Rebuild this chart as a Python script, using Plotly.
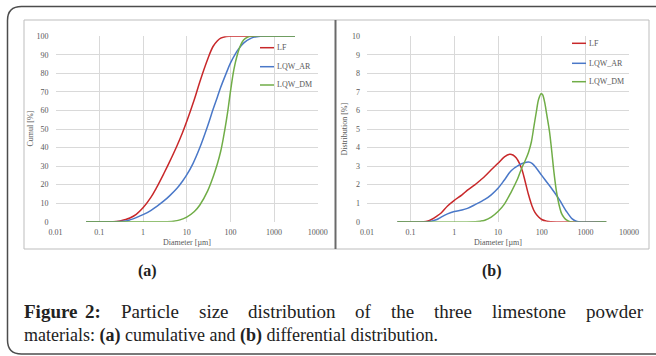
import plotly.graph_objects as go

W, H = 656, 356

# ---------------- data ----------------
# (a) cumulative distribution [%]
cum_lf_x = [0.05, 0.1, 0.2, 0.25, 0.3, 0.4, 0.5, 0.7, 1, 1.5, 2, 3, 4, 6, 8, 10, 15, 20, 30, 40, 50, 60, 80, 100, 200, 500, 1000, 3000]
cum_lf_y = [0, 0, 0, 0.1, 0.4, 1.2, 2, 4, 7.5, 13, 18, 26, 32, 41, 48, 54, 66, 75.5, 87.5, 94.5, 97.5, 99, 99.9, 100, 100, 100, 100, 100]

cum_ar_x = [0.05, 0.1, 0.2, 0.3, 0.4, 0.5, 0.7, 1, 1.5, 2, 3, 4, 6, 8, 10, 14, 20, 30, 40, 50, 60, 80, 100, 130, 150, 200, 300, 400, 500, 1000, 3000]
cum_ar_y = [0, 0, 0, 0.1, 0.4, 1, 2.2, 3.8, 6, 8, 11.2, 13.8, 18, 21.8, 25.2, 31.5, 40, 51.5, 60.5, 67, 72.5, 80, 85.5, 90.5, 92.8, 96.3, 99, 99.8, 100, 100, 100]

cum_dm_x = [0.05, 1, 3, 5, 7, 10, 15, 20, 30, 40, 50, 60, 70, 80, 90, 100, 120, 140, 170, 200, 250, 300, 1000, 3000]
cum_dm_y = [0, 0, 0, 0.3, 1, 2.5, 5.5, 9, 16.5, 24, 31, 38, 46, 54, 62, 70, 82, 89, 95, 98, 99.6, 100, 100, 100]

# (b) differential distribution [%]
dif_lf_x = [0.05, 0.2, 0.25, 0.3, 0.4, 0.5, 0.7, 1, 1.5, 2, 3, 4, 5, 7, 10, 14, 18.5, 22, 26, 31, 36, 41, 50, 60, 70, 85, 100, 130, 160, 3000]
dif_lf_y = [0, 0, 0.04, 0.12, 0.3, 0.47, 0.85, 1.15, 1.45, 1.7, 2.0, 2.25, 2.45, 2.8, 3.15, 3.5, 3.64, 3.6, 3.45, 3.15, 2.75, 2.25, 1.45, 0.85, 0.5, 0.25, 0.12, 0.03, 0, 0]

dif_ar_x = [0.05, 0.25, 0.3, 0.4, 0.5, 0.7, 1, 1.5, 2, 3, 5, 7, 10, 14, 20, 30, 40, 50, 60, 75, 100, 150, 200, 260, 370, 500, 600, 700, 3000]
dif_ar_y = [0, 0, 0.03, 0.12, 0.25, 0.42, 0.55, 0.63, 0.72, 0.92, 1.2, 1.45, 1.8, 2.25, 2.75, 3.05, 3.18, 3.22, 3.15, 2.9, 2.5, 1.95, 1.55, 1.15, 0.55, 0.15, 0.04, 0, 0]

dif_dm_x = [0.05, 3, 4, 5, 7, 10, 14, 20, 28, 35, 42, 50, 58, 66, 75, 85, 97, 105, 120, 130, 150, 167, 190, 218, 250, 284, 330, 373, 450, 3000]
dif_dm_y = [0, 0, 0.03, 0.08, 0.25, 0.55, 0.95, 1.6, 2.3, 2.9, 3.3, 3.75, 4.3, 5.1, 5.9, 6.6, 6.9, 6.85, 6.3, 5.8, 4.9, 3.96, 2.7, 1.62, 0.9, 0.45, 0.2, 0.09, 0, 0]

series_names = ["LF", "LQW_AR", "LQW_DM"]
series_colors = ["#c8282a", "#4a78c8", "#70ad47"]

x_tickvals = [0.01, 0.1, 1, 10, 100, 1000, 10000]
x_ticktext = ["0.01", "0.1", "1", "10", "100", "1000", "10000"]
y_ticks_a = list(range(0, 101, 10))
y_ticks_b = list(range(0, 11, 1))

caption_words_line1 = ["<b>Figure</b>", "<b>2:</b>", "Particle", "size", "distribution",
                       "of", "the", "three", "limestone", "powder"]
caption_line2 = "materials: <b>(a)</b> cumulative and <b>(b)</b> differential distribution."

# ---------------- helpers ----------------
def fx(px):
    return px / W

def fy(py):
    return 1 - py / H

SERIF = "Liberation Serif"
GRAY = "#595959"
TEXT = "#222222"

fig = go.Figure()

cum = [(cum_lf_x, cum_lf_y), (cum_ar_x, cum_ar_y), (cum_dm_x, cum_dm_y)]
dif = [(dif_lf_x, dif_lf_y), (dif_ar_x, dif_ar_y), (dif_dm_x, dif_dm_y)]

for (xs, ys), name, col in zip(cum, series_names, series_colors):
    fig.add_trace(go.Scatter(x=xs, y=ys, mode="lines", name=name, showlegend=False,
                             line=dict(color=col, width=1.5, shape="spline", smoothing=1.0),
                             xaxis="x", yaxis="y"))
for (xs, ys), name, col in zip(dif, series_names, series_colors):
    fig.add_trace(go.Scatter(x=xs, y=ys, mode="lines", name=name, showlegend=False,
                             line=dict(color=col, width=1.5, shape="spline", smoothing=0.9),
                             xaxis="x2", yaxis="y2"))

xax = dict(type="log", range=[-2, 4], tickvals=x_tickvals, ticktext=x_ticktext,
           showgrid=True, gridcolor="#d9d9d9", gridwidth=1, zeroline=False, showline=False,
           ticks="", automargin=False, ticklabelstandoff=4,
           tickfont=dict(family=SERIF, size=8, color=GRAY))
yax = dict(showgrid=True, gridcolor="#d9d9d9", gridwidth=1, zeroline=False, showline=False,
           ticks="", automargin=False, ticklabelstandoff=6,
           tickfont=dict(family=SERIF, size=8, color=GRAY))

ydom = [fy(221.7), fy(36.3)]
fig.update_layout(
    width=W, height=H, autosize=False,
    margin=dict(l=0, r=0, t=0, b=0, pad=0),
    paper_bgcolor="white", plot_bgcolor="white",
    showlegend=False, hovermode=False,
    xaxis=dict(xax, domain=[fx(55.6), fx(317.8)], anchor="y"),
    yaxis=dict(yax, domain=ydom, range=[0, 100], tickvals=y_ticks_a, anchor="x"),
    xaxis2=dict(xax, domain=[fx(366.9), fx(629.1)], anchor="y2"),
    yaxis2=dict(yax, domain=ydom, range=[0, 10], tickvals=y_ticks_b, anchor="x2"),
)

shapes = []
# outer rounded frame (open on the right)
r = 14
x0, y0, y1, xr = 7.5, 6.5, 354, 700
path = (f"M {fx(x0)},{fy(y1 - r)} L {fx(x0)},{fy(y0 + r)} "
        f"Q {fx(x0)},{fy(y0)} {fx(x0 + r)},{fy(y0)} L {fx(xr)},{fy(y0)} "
        f"M {fx(x0)},{fy(y1 - r)} Q {fx(x0)},{fy(y1)} {fx(x0 + r)},{fy(y1)} L {fx(xr)},{fy(y1)}")
shapes.append(dict(type="path", xref="paper", yref="paper", path=path,
                   line=dict(color="#4d4d4d", width=1.5)))
# chart box
shapes.append(dict(type="rect", xref="paper", yref="paper",
                   x0=fx(24), x1=fx(649), y0=fy(249), y1=fy(20),
                   line=dict(color="#bdbdbd", width=1)))
# divider
shapes.append(dict(type="line", xref="paper", yref="paper",
                   x0=fx(335.5), x1=fx(335.5), y0=fy(249), y1=fy(20),
                   line=dict(color="#6a6a6a", width=2)))

annotations = []
# legends (manual)
leg_a = [(260, 274, 47.7), (260, 274, 66.7), (260, 274, 85.0)]
leg_b = [(572, 586, 43.3), (572, 586, 63.3), (572, 586, 81.7)]
for legs in (leg_a, leg_b):
    for (lx0, lx1, ly), name, col in zip(legs, series_names, series_colors):
        shapes.append(dict(type="line", xref="paper", yref="paper",
                           x0=fx(lx0), x1=fx(lx1), y0=fy(ly), y1=fy(ly),
                           line=dict(color=col, width=1.5)))
        annotations.append(dict(x=fx(lx1 + 1), y=fy(ly), xref="paper", yref="paper",
                                text=name, showarrow=False, xanchor="left", yanchor="middle",
                                font=dict(family=SERIF, size=8, color=GRAY)))

def ann(x, y, text, size=8, angle=0, color=GRAY, xanchor="center", bold=False):
    annotations.append(dict(x=fx(x), y=fy(y), xref="paper", yref="paper",
                            text=(f"<b>{text}</b>" if bold else text), showarrow=False,
                            xanchor=xanchor, yanchor="middle", textangle=angle,
                            font=dict(family=SERIF, size=size, color=color)))

# axis titles
ann(29.5, 129, "Cumul [%]", 8, -90)
ann(186.7, 242, "Diameter [µm]", 8)
ann(343.5, 129, "Distribution [%]", 8, -90)
ann(498, 242, "Diameter [µm]", 8)

# panel labels
ann(147, 271, "(a)", 16, bold=True, color=TEXT)
ann(492, 271, "(b)", 16, bold=True, color=TEXT)

# caption: first line justified word by word
word_x = [22, 82.5, 118.5, 196.5, 246, 353.5, 389, 432, 490, 584]
for t, x in zip(caption_words_line1, word_x):
    ann(x, 311, t, 19, color=TEXT, xanchor="left")
ann(22, 335, caption_line2, 18, color=TEXT, xanchor="left")

fig.update_layout(shapes=shapes, annotations=annotations)
fig.write_html("out.html", config={"displayModeBar": False, "staticPlot": True},
               post_script="document.body.style.margin='0';document.body.style.overflow='hidden';")
